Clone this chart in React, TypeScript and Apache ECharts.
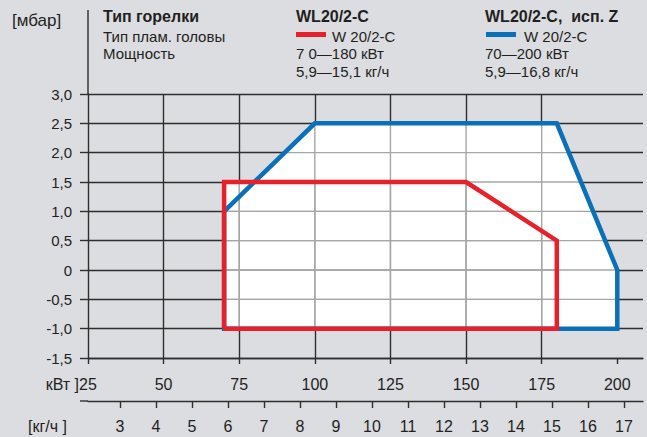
import React, { useEffect, useRef } from "react";
import * as echarts from "echarts";

// ---- data ----
const pressureTicks = [-1.5, -1.0, -0.5, 0, 0.5, 1.0, 1.5, 2.0, 2.5, 3.0];
const powerTicks = [25, 50, 75, 100, 125, 150, 175, 200];
const flowTicks = [3, 4, 5, 6, 7, 8, 9, 10, 11, 12, 13, 14, 15, 16, 17];

// WL20/2-C (red) working field, closed polygon: power kW / pressure mbar
const redPower = [70, 70, 150, 180, 180, 70];
const redPressure = [-1.0, 1.5, 1.5, 0.5, -1.0, -1.0];
// WL20/2-C исп. Z (blue) working field
const bluePower = [70, 100, 180, 200, 200, 70, 70];
const bluePressure = [1.0, 2.5, 2.5, 0, -1.0, -1.0, 1.0];

const powerRange = [25, 208.5];
const flowRange = [2.111, 17.528];
const pressureRange = [-1.5, 3.0];

const FONT = '"Liberation Sans", Arial, sans-serif';
const TEXT = "#231f20";
const RED = "#e8202a";
const BLUE = "#0a70b9";
const DARK_GRID = "#2e2e2e";
const LIGHT_GRID = "#a6a6a6";

const zip = (xs: number[], ys: number[]) => xs.map((x, i) => [x, ys[i]]);

function clipSpan(poly: number[][], axis: number, v: number): [number, number] | null {
  const other = 1 - axis;
  const hits: number[] = [];
  for (let i = 0; i < poly.length - 1; i++) {
    const p = poly[i];
    const q = poly[i + 1];
    const a = p[axis] - v;
    const b = q[axis] - v;
    if (a === 0 && b === 0) {
      hits.push(p[other], q[other]);
      continue;
    }
    if (a * b <= 0) {
      const t = a / (a - b);
      hits.push(p[other] + t * (q[other] - p[other]));
    }
  }
  if (hits.length < 2) return null;
  const lo = Math.min(...hits);
  const hi = Math.max(...hits);
  if (hi - lo < 1e-9) return null;
  return [lo, hi];
}

const fmtPressure = (v: number) => (Math.abs(v) < 1e-9 ? "0" : v.toFixed(1).replace(".", ","));

export default function App() {
  const ref = useRef<HTMLDivElement>(null);
  useEffect(() => {
    document.body.style.margin = "0";
    if (!ref.current) return;
    const chart = echarts.init(ref.current, undefined, { renderer: "svg" });
    const redPoly = zip(redPower, redPressure);
    const bluePoly = zip(bluePower, bluePressure);
    const polys = [bluePoly, redPoly];

    const text = (
      t: string,
      x: number,
      y: number,
      size: number,
      bold = false,
      align = "left"
    ) => ({
      type: "text",
      x,
      y,
      silent: true,
      style: {
        text: t,
        fill: TEXT,
        fontSize: size,
        fontWeight: bold ? "bold" : "normal",
        fontFamily: FONT,
        align,
        verticalAlign: "middle",
      },
    });

    chart.setOption({
      animation: false,
      backgroundColor: "#dcdde0",
      grid: { left: 88, right: 4, top: 94, bottom: 79, containLabel: false },
      xAxis: [
        {
          type: "value",
          min: powerRange[0],
          max: powerRange[1],
          interval: 25,
          position: "bottom",
          axisLine: { show: true, onZero: false, lineStyle: { color: DARK_GRID, width: 1.4 } },
          axisTick: {
            show: true,
            length: 6,
            customValues: powerTicks,
            lineStyle: { color: DARK_GRID, width: 1.4 },
          },
          axisLabel: {
            customValues: powerTicks,
            fontSize: 16,
            color: TEXT,
            fontFamily: FONT,
            margin: 18,
          },
          splitLine: {
            show: true,
            showMinLine: false,
            showMaxLine: false,
            lineStyle: { color: DARK_GRID, width: 1.4 },
          },
        },
        {
          type: "value",
          min: flowRange[0],
          max: flowRange[1],
          position: "bottom",
          offset: 43,
          axisLine: { show: true, onZero: false, lineStyle: { color: DARK_GRID, width: 1.4 } },
          axisTick: {
            show: true,
            length: 7,
            customValues: flowTicks,
            lineStyle: { color: DARK_GRID, width: 1.4 },
          },
          axisLabel: {
            customValues: flowTicks,
            fontSize: 16,
            color: TEXT,
            fontFamily: FONT,
            margin: 17,
          },
          splitLine: { show: false },
        },
      ],
      yAxis: {
        type: "value",
        min: pressureRange[0],
        max: pressureRange[1],
        interval: 0.5,
        axisLine: { show: true, lineStyle: { color: DARK_GRID, width: 1.4 } },
        axisTick: { show: true, length: 8, lineStyle: { color: DARK_GRID, width: 1.4 } },
        axisLabel: {
          formatter: fmtPressure,
          fontSize: 15,
          color: TEXT,
          fontFamily: FONT,
          margin: 16,
        },
        splitLine: { show: true, lineStyle: { color: DARK_GRID, width: 1.4 } },
      },
      series: [
        {
          type: "custom",
          name: "field",
          silent: true,
          clip: false,
          z: 2,
          data: [[powerRange[0], pressureRange[0]]],
          renderItem: (_params: any, api: any) => {
            const children: any[] = [];
            for (const poly of polys) {
              children.push({
                type: "polygon",
                shape: { points: poly.map((p) => api.coord(p)) },
                style: { fill: "#ffffff", stroke: null },
              });
            }
            for (const poly of polys) {
              for (const v of pressureTicks) {
                const s = clipSpan(poly, 1, v);
                if (!s) continue;
                const a = api.coord([s[0], v]);
                const b = api.coord([s[1], v]);
                children.push({
                  type: "line",
                  shape: { x1: a[0], y1: a[1], x2: b[0], y2: b[1] },
                  style: { stroke: LIGHT_GRID, lineWidth: 1.4 },
                });
              }
              for (const v of powerTicks) {
                const s = clipSpan(poly, 0, v);
                if (!s) continue;
                const a = api.coord([v, s[0]]);
                const b = api.coord([v, s[1]]);
                children.push({
                  type: "line",
                  shape: { x1: a[0], y1: a[1], x2: b[0], y2: b[1] },
                  style: { stroke: LIGHT_GRID, lineWidth: 1.4 },
                });
              }
            }
            return { type: "group", children };
          },
        },
        {
          type: "line",
          name: "WL20/2-C, исп. Z",
          data: bluePoly,
          symbol: "none",
          showSymbol: false,
          z: 3,
          lineStyle: { color: BLUE, width: 4.5, join: "miter", cap: "butt" },
        },
        {
          type: "line",
          name: "WL20/2-C",
          data: redPoly,
          symbol: "none",
          showSymbol: false,
          z: 4,
          lineStyle: { color: RED, width: 4.5, join: "miter", cap: "butt" },
        },
      ],
      graphic: [
        // y-axis extension upward, kg axis extension left
        { type: "line", silent: true, shape: { x1: 88, y1: 10, x2: 88, y2: 94 }, style: { stroke: DARK_GRID, lineWidth: 1.4 } },
        { type: "line", silent: true, shape: { x1: 80, y1: 401, x2: 88, y2: 401 }, style: { stroke: DARK_GRID, lineWidth: 1.4 } },
        text("[мбар]", 12, 20, 17),
        text("Тип горелки", 103, 16, 16, true),
        text("Тип плам. головы", 103, 36, 15),
        text("Мощность", 103, 53, 15),
        text("WL20/2-C", 296, 16, 16, true),
        { type: "rect", silent: true, shape: { x: 296, y: 32, width: 30, height: 5 }, style: { fill: RED } },
        text("W 20/2-C", 332, 36, 15),
        text("7 0—180 кВт", 296, 53, 15),
        text("5,9—15,1 кг/ч", 296, 71, 15),
        text("WL20/2-C,  исп. Z", 485, 16, 16, true),
        { type: "rect", silent: true, shape: { x: 486, y: 32, width: 30, height: 5 }, style: { fill: BLUE } },
        text("W 20/2-C", 524, 36, 15),
        text("70—200 кВт", 485, 53, 15),
        text("5,9—16,8 кг/ч", 485, 71, 15),
        text("кВт ]", 79, 384, 16, false, "right"),
        text("[кг/ч ]", 28, 426, 16),
      ],
    });
    return () => chart.dispose();
  }, []);
  return <div ref={ref} style={{ width: 647, height: 437 }} />;
}
